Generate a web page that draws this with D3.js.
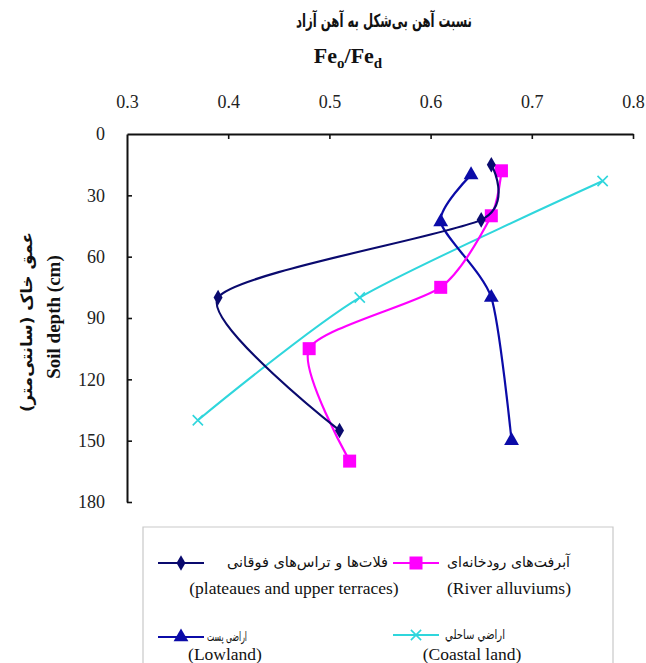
<!DOCTYPE html>
<html><head><meta charset="utf-8">
<script src="https://cdn.jsdelivr.net/npm/d3@7"></script>
<style>
body{margin:0;background:#fff;}
svg{display:block;}
</style></head>
<body>
<svg id="chart" width="646" height="663"></svg>
<script>
// ---- data ----
const xTicks = [0.3, 0.4, 0.5, 0.6, 0.7, 0.8];
const yTicks = [0, 30, 60, 90, 120, 150, 180];

const platDepth = [15, 42, 80, 145];
const platFe    = [0.66, 0.65, 0.39, 0.51];

const riverDepth = [18, 40, 75, 105, 160];
const riverFe    = [0.67, 0.66, 0.61, 0.48, 0.52];

const lowDepth = [20, 43, 80, 150];
const lowFe    = [0.64, 0.61, 0.66, 0.68];

const coastDepth = [23, 80, 140];
const coastFe    = [0.77, 0.53, 0.37];

const seriesNames = ["plateaus", "river", "lowland", "coastal"];
const seriesFa = ["فلات‌ها و تراس‌های فوقانی", "آبرفت‌های رودخانه‌ای", "اراضی پست", "اراضي ساحلي"];
const seriesEn = ["(plateaues and upper terraces)", "(River alluviums)", "(Lowland)", "(Coastal  land)"];

// ---- layout ----
const svg = d3.select("#chart");
const pLeft = 127, pRight = 633, pTop = 134, pBottom = 502;
const x = d3.scaleLinear().domain([0.3, 0.8]).range([pLeft, pRight]);
const y = d3.scaleLinear().domain([0, 180]).range([pTop, pBottom]);
const serif = "'Liberation Serif','Times New Roman',serif";
const faFont = "'DejaVu Sans','Noto Sans',sans-serif";

// axes
const xa = svg.append("g").attr("transform", `translate(0,${pTop})`)
  .call(d3.axisTop(x).tickValues(xTicks).tickFormat(d3.format(".1f")).tickSizeInner(-5).tickSizeOuter(0).tickPadding(26));
const ya = svg.append("g").attr("transform", `translate(${pLeft},0)`)
  .call(d3.axisLeft(y).tickValues(yTicks).tickFormat(d3.format("d")).tickSizeInner(-5).tickSizeOuter(0).tickPadding(22));
[xa, ya].forEach(a => {
  a.attr("font-family", serif);
  a.select(".domain").attr("stroke", "#111").attr("stroke-width", 2);
  a.selectAll(".tick line").attr("stroke", "#111").attr("stroke-width", 1.6);
  a.selectAll(".tick text").style("font-family", serif).attr("font-size", 18).attr("fill", "#222");
});
xa.selectAll(".tick").filter(d => d === 0.3).select("line").remove();
ya.selectAll(".tick").filter(d => d === 0).select("line").remove();

// titles
svg.append("text").attr("x", 384).attr("y", 27).attr("text-anchor", "middle")
  .attr("direction", "rtl").attr("font-family", faFont).attr("font-weight", "bold").attr("font-size", 18)
  .attr("textLength", 176).attr("lengthAdjust", "spacingAndGlyphs").attr("fill", "#111")
  .text("نسبت آهن بی‌شکل به آهن آزاد");
const fe = svg.append("text").attr("x", 348).attr("y", 63).attr("text-anchor", "middle")
  .attr("font-family", serif).attr("font-weight", "bold").attr("font-size", 22).attr("fill", "#111");
fe.append("tspan").text("Fe");
fe.append("tspan").attr("font-size", 15).attr("dy", 5).text("o");
fe.append("tspan").attr("dy", -5).text("/Fe");
fe.append("tspan").attr("font-size", 15).attr("dy", 5).text("d");

svg.append("text").attr("transform", "translate(32,322) rotate(-90)").attr("text-anchor", "middle")
  .attr("direction", "rtl").attr("font-family", faFont).attr("font-weight", "bold").attr("font-size", 16)
  .attr("textLength", 180).attr("lengthAdjust", "spacingAndGlyphs").attr("fill", "#111")
  .text("عمق خاک (سانتی‌متر)");
svg.append("text").attr("transform", "translate(60,317) rotate(-90)").attr("text-anchor", "middle")
  .attr("font-family", serif).attr("font-weight", "bold").attr("font-size", 19).attr("fill", "#111")
  .text("Soil depth (cm)");

// series
const colors = {plateaus: "#0a0a6e", river: "#ff00ff", lowland: "#0b0ba8", coastal: "#2fd6dc"};
const data = {
  plateaus: platDepth.map((d, i) => ({d, v: platFe[i]})),
  river: riverDepth.map((d, i) => ({d, v: riverFe[i]})),
  lowland: lowDepth.map((d, i) => ({d, v: lowFe[i]})),
  coastal: coastDepth.map((d, i) => ({d, v: coastFe[i]}))
};
const line = d3.line().x(p => x(p.v)).y(p => y(p.d)).curve(d3.curveCardinal.tension(0.3));

function marker(g, name, cx, cy) {
  const c = colors[name];
  if (name === "plateaus") {
    g.append("path").attr("d", d3.symbol(d3.symbolDiamond, 70)()).attr("transform", `translate(${cx},${cy})`).attr("fill", c);
  } else if (name === "river") {
    g.append("rect").attr("x", cx - 6.5).attr("y", cy - 6.5).attr("width", 13).attr("height", 13).attr("fill", c);
  } else if (name === "lowland") {
    g.append("path").attr("d", d3.symbol(d3.symbolTriangle, 95)()).attr("transform", `translate(${cx},${cy})`).attr("fill", c);
  } else {
    g.append("path").attr("d", d3.symbol(d3.symbolX, 70)()).attr("transform", `translate(${cx},${cy})`)
      .attr("fill", "none").attr("stroke", c).attr("stroke-width", 1.6);
  }
}

const order = ["coastal", "lowland", "river", "plateaus"];
order.forEach(name => {
  const g = svg.append("g");
  g.append("path").datum(data[name]).attr("d", line).attr("fill", "none")
    .attr("stroke", colors[name]).attr("stroke-width", name === "coastal" ? 2 : 2.2);
  data[name].forEach(p => marker(g, name, x(p.v), y(p.d)));
});

// legend
svg.append("path").attr("d", "M143,680V527H613V680").attr("fill", "none").attr("stroke", "#c9c9c9").attr("stroke-width", 1.2);
const legPos = [
  {lx: 158, ly: 563, tx: 227, tw: 161, fs: 14.5, ex: 294, ey: 594},
  {lx: 393, ly: 563, tx: 447, tw: 123, fs: 14.5, ex: 509, ey: 594},
  {lx: 158, ly: 637, tx: 207, tw: 40, fs: 12.5, ex: 225, ey: 660},
  {lx: 393, ly: 635, tx: 445, tw: 60, fs: 12.5, ex: 472, ey: 660}
];
seriesNames.forEach((name, i) => {
  const p = legPos[i];
  const g = svg.append("g");
  g.append("line").attr("x1", p.lx).attr("x2", p.lx + 46).attr("y1", p.ly).attr("y2", p.ly)
    .attr("stroke", colors[name]).attr("stroke-width", 2.2);
  marker(g, name, p.lx + 23, p.ly);
  g.append("text").attr("x", p.tx).attr("y", p.ly + 4).attr("text-anchor", "end")
    .attr("direction", "rtl").attr("font-family", faFont).attr("font-size", p.fs).attr("fill", "#111")
    .attr("textLength", p.tw).attr("lengthAdjust", "spacingAndGlyphs")
    .text(seriesFa[i]);
  g.append("text").attr("x", p.ex).attr("y", p.ey).attr("text-anchor", "middle")
    .attr("font-family", serif).attr("font-size", 17.5).attr("fill", "#111").text(seriesEn[i]);
});
</script>
</body></html>
